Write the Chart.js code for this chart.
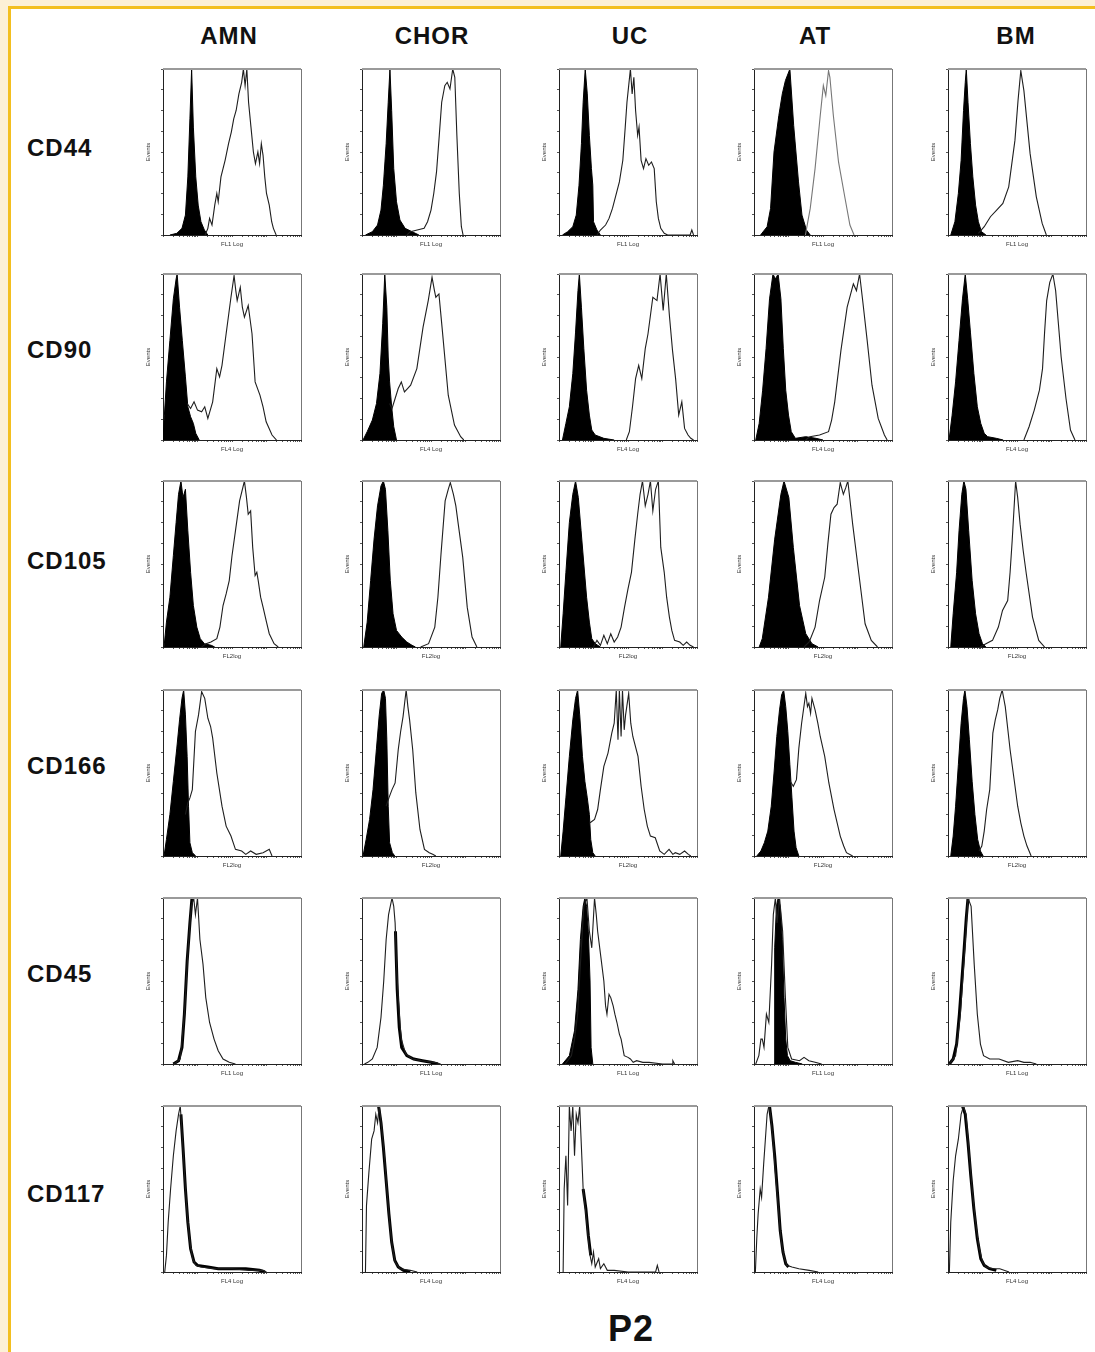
<!DOCTYPE html>
<html>
<head>
<meta charset="utf-8">
<script src="https://cdn.jsdelivr.net/npm/chart.js@4.4.1/dist/chart.umd.min.js"></script>
<style>
body { margin: 0; width: 1095px; height: 1352px; overflow: hidden; position: relative; background: #fcf0d6; font-family: "Liberation Sans", Arial, sans-serif; }
#sheet { position: absolute; left: 8px; top: 6px; width: 1200px; height: 1400px; background: #fff; border-left: 3px solid #f3bf1f; border-top: 3px solid #f3bf1f; }
.lbl { position: absolute; font-weight: bold; color: #111; font-size: 24px; letter-spacing: 1px; transform: translate(-50%, -50%); white-space: nowrap; }
.row { transform: translate(0, -50%); }
canvas { position: absolute; }
</style>
</head>
<body>
<div id="sheet"></div>
<script>
var columns = ['AMN', 'CHOR', 'UC', 'AT', 'BM'];
var markers = ['CD44', 'CD90', 'CD105', 'CD166', 'CD45', 'CD117'];
var axisTitles = ['FL1 Log', 'FL4 Log', 'FL2log', 'FL2log', 'FL1 Log', 'FL4 Log'];

// every histogram: [log decade, % of max events]
// order inside each list: AMN, CHOR, UC, AT, BM
var cd44Ctrl = [
    [[0.2,0],[0.4,1],[0.55,4],[0.65,12],[0.72,35],[0.78,70],[0.83,100],[0.88,65],[0.95,35],[1.02,18],[1.1,8],[1.2,3],[1.3,0]],
    [[0.1,0],[0.3,2],[0.45,6],[0.55,15],[0.62,30],[0.7,55],[0.76,80],[0.81,100],[0.86,75],[0.92,40],[1.0,20],[1.1,9],[1.25,4],[1.45,2],[1.65,0]],
    [[0.1,0],[0.25,2],[0.4,5],[0.5,12],[0.58,30],[0.65,55],[0.7,80],[0.76,100],[0.82,85],[0.88,60],[0.94,40],[0.98,30],[1.0,8],[1.1,3],[1.2,0]],
    [[0.19,0],[0.38,5],[0.48,16],[0.58,50],[0.72,72],[0.82,85],[0.91,93],[1.04,100],[1.15,66],[1.29,32],[1.39,12],[1.52,3],[1.63,0]],
    [[0.08,0],[0.2,8],[0.3,25],[0.38,45],[0.45,75],[0.5,92],[0.53,100],[0.58,80],[0.65,55],[0.72,35],[0.8,18],[0.88,8],[0.97,2],[1.1,0]]
];
var cd44Pos = [
    [[1.22,0],[1.3,4],[1.35,10],[1.42,6],[1.5,18],[1.56,25],[1.6,20],[1.68,35],[1.8,45],[1.9,55],[1.98,62],[2.05,70],[2.12,75],[2.2,85],[2.28,92],[2.33,100],[2.38,90],[2.43,100],[2.48,80],[2.55,65],[2.62,50],[2.68,43],[2.75,50],[2.8,43],[2.85,55],[2.9,48],[2.95,35],[3.0,25],[3.08,18],[3.15,8],[3.2,4],[3.28,0]],
    [[1.3,0],[1.4,2],[1.6,3],[1.8,4],[1.9,8],[2.0,15],[2.08,25],[2.16,38],[2.24,60],[2.31,80],[2.4,90],[2.47,92],[2.55,88],[2.63,100],[2.69,95],[2.75,60],[2.82,25],[2.88,5],[2.93,0]],
    [[1.1,0],[1.2,3],[1.35,6],[1.45,10],[1.55,16],[1.65,24],[1.75,32],[1.85,45],[1.92,65],[1.97,80],[2.02,90],[2.07,100],[2.12,85],[2.17,95],[2.22,75],[2.28,60],[2.32,65],[2.38,45],[2.45,40],[2.52,46],[2.6,42],[2.68,44],[2.76,40],[2.82,20],[2.88,10],[2.95,4],[3.05,1],[3.15,0],[3.8,0],[3.85,3],[3.9,0]],
    [[1.49,0],[1.63,16],[1.77,40],[1.92,72],[2.01,90],[2.08,84],[2.16,99],[2.2,95],[2.3,72],[2.45,44],[2.64,22],[2.78,6],[2.9,0]],
    [[0.88,1],[1.05,5],[1.23,11],[1.41,15],[1.59,19],[1.76,29],[1.94,57],[2.03,81],[2.11,99],[2.2,87],[2.38,49],[2.56,23],[2.73,7],[2.85,0]]
];

var cd90Ctrl = [
    [[0,0],[0.04,15],[0.1,35],[0.2,60],[0.3,85],[0.38,97],[0.41,100],[0.48,80],[0.56,60],[0.65,38],[0.72,20],[0.8,14],[0.88,10],[0.95,4],[1.05,0]],
    [[0.03,0],[0.15,5],[0.3,12],[0.42,22],[0.52,40],[0.6,70],[0.66,100],[0.72,80],[0.76,50],[0.8,35],[0.86,20],[0.92,8],[1.0,0]],
    [[0.1,0],[0.2,10],[0.3,20],[0.4,40],[0.48,65],[0.55,90],[0.59,100],[0.65,80],[0.72,55],[0.8,30],[0.88,15],[0.95,6],[1.05,3],[1.3,1],[1.6,0]],
    [[0.05,0],[0.15,10],[0.25,30],[0.35,55],[0.45,85],[0.55,100],[0.62,97],[0.7,100],[0.78,85],[0.85,55],[0.92,30],[1.0,15],[1.08,5],[1.2,1],[1.5,2],[1.8,1],[2.0,0]],
    [[0.03,0],[0.12,15],[0.22,35],[0.32,60],[0.42,85],[0.5,100],[0.57,85],[0.65,65],[0.75,40],[0.85,20],[0.95,10],[1.05,4],[1.15,2],[1.4,1],[1.6,0]]
];
var cd90Pos = [
    [[0.7,22],[0.8,19],[0.9,23],[1.0,18],[1.12,17],[1.21,20],[1.3,13],[1.44,23],[1.56,43],[1.64,38],[1.71,45],[1.83,64],[1.97,86],[2.06,99],[2.11,90],[2.15,84],[2.24,92],[2.3,80],[2.36,74],[2.47,81],[2.58,64],[2.67,35],[2.81,27],[2.9,20],[2.99,11],[3.16,3],[3.29,0]],
    [[0.8,22],[0.87,19],[0.96,25],[1.05,31],[1.14,35],[1.23,29],[1.32,31],[1.41,33],[1.59,43],[1.77,68],[1.92,84],[2.03,98],[2.1,90],[2.14,86],[2.23,88],[2.32,68],[2.5,27],[2.68,9],[2.86,2],[2.95,0]],
    [[1.95,0],[2.04,5],[2.13,20],[2.22,37],[2.31,45],[2.4,37],[2.5,55],[2.58,64],[2.72,86],[2.84,84],[2.93,100],[3.02,78],[3.11,100],[3.2,75],[3.29,54],[3.38,37],[3.47,15],[3.56,23],[3.64,7],[3.74,3],[3.82,1],[3.9,0]],
    [[1.5,0],[1.62,2],[1.9,3],[2.16,5],[2.25,12],[2.34,23],[2.52,54],[2.7,80],[2.88,94],[2.97,90],[3.06,100],[3.15,84],[3.28,60],[3.42,33],[3.6,13],[3.78,3],[3.86,0]],
    [[2.2,0],[2.35,8],[2.5,18],[2.65,30],[2.74,43],[2.8,65],[2.86,84],[2.95,95],[3.04,100],[3.12,90],[3.2,70],[3.28,50],[3.42,25],[3.55,6],[3.68,0]]
];

var cd105Ctrl = [
    [[0.03,0],[0.1,15],[0.2,30],[0.3,55],[0.38,75],[0.45,92],[0.52,100],[0.58,90],[0.65,95],[0.72,70],[0.8,45],[0.88,25],[0.98,12],[1.08,5],[1.2,2],[1.4,1],[1.5,0]],
    [[0.05,0],[0.15,15],[0.25,40],[0.35,65],[0.45,85],[0.55,97],[0.62,100],[0.68,95],[0.75,70],[0.82,40],[0.9,20],[1.0,10],[1.15,6],[1.3,3],[1.45,1],[1.55,0]],
    [[0.05,0],[0.12,20],[0.2,45],[0.3,75],[0.4,92],[0.48,100],[0.56,90],[0.64,70],[0.72,50],[0.8,30],[0.88,15],[0.95,5],[1.05,2],[1.2,0]],
    [[0.15,0],[0.24,5],[0.42,30],[0.6,65],[0.78,92],[0.87,100],[1.01,90],[1.14,60],[1.32,25],[1.5,8],[1.68,2],[1.86,0]],
    [[0.08,0],[0.15,20],[0.25,45],[0.32,70],[0.4,92],[0.46,100],[0.52,95],[0.6,70],[0.7,40],[0.8,20],[0.9,8],[1.0,2],[1.1,0]]
];
var cd105Pos = [
    [[1.12,0],[1.25,2],[1.39,3],[1.56,5],[1.65,12],[1.74,25],[1.83,32],[1.92,40],[2.0,55],[2.1,70],[2.22,88],[2.36,100],[2.42,90],[2.47,80],[2.54,82],[2.6,60],[2.67,43],[2.72,45],[2.76,40],[2.83,30],[2.9,24],[3.0,15],[3.08,8],[3.22,2],[3.34,0]],
    [[1.7,0],[1.93,2],[2.11,12],[2.2,30],[2.29,56],[2.41,88],[2.5,95],[2.56,99],[2.65,92],[2.72,85],[2.79,74],[2.92,54],[3.05,24],[3.19,6],[3.33,0]],
    [[1.0,0],[1.1,4],[1.2,1],[1.3,7],[1.4,2],[1.5,8],[1.6,3],[1.7,6],[1.8,12],[1.9,24],[2.0,35],[2.1,45],[2.2,65],[2.28,80],[2.35,92],[2.42,100],[2.5,85],[2.58,92],[2.65,100],[2.72,82],[2.8,95],[2.88,100],[2.95,60],[3.05,45],[3.12,30],[3.2,18],[3.27,10],[3.35,4],[3.5,3],[3.6,1],[3.7,3],[3.8,1],[3.9,0]],
    [[1.45,0],[1.6,3],[1.77,12],[1.9,28],[2.05,42],[2.14,62],[2.23,80],[2.32,84],[2.41,86],[2.5,99],[2.59,92],[2.66,96],[2.72,100],[2.86,74],[3.04,44],[3.22,14],[3.4,4],[3.58,0]],
    [[0.93,0],[1.1,2],[1.29,4],[1.46,12],[1.58,22],[1.73,28],[1.8,45],[1.86,64],[1.96,100],[2.02,90],[2.09,74],[2.18,58],[2.27,44],[2.45,18],[2.63,4],[2.8,0]]
];

var cd166Ctrl = [
    [[0.03,0],[0.1,10],[0.2,25],[0.3,45],[0.4,65],[0.48,82],[0.55,95],[0.6,100],[0.65,85],[0.7,60],[0.74,30],[0.78,8],[0.85,2],[0.95,0]],
    [[0.03,0],[0.12,10],[0.22,22],[0.32,40],[0.42,65],[0.5,85],[0.57,98],[0.63,100],[0.68,95],[0.72,70],[0.76,30],[0.8,8],[0.88,2],[0.95,0]],
    [[0.05,0],[0.12,15],[0.2,35],[0.3,60],[0.4,82],[0.48,95],[0.54,100],[0.6,85],[0.68,60],[0.75,45],[0.82,35],[0.88,25],[0.92,10],[0.98,2],[1.05,0]],
    [[0.08,0],[0.2,3],[0.3,8],[0.4,15],[0.5,30],[0.58,50],[0.66,72],[0.74,88],[0.8,97],[0.86,100],[0.92,90],[0.98,75],[1.04,55],[1.1,35],[1.16,15],[1.22,5],[1.3,0]],
    [[0.08,0],[0.15,12],[0.22,30],[0.3,55],[0.38,80],[0.45,95],[0.49,100],[0.55,90],[0.62,70],[0.7,45],[0.78,25],[0.86,10],[0.94,3],[1.02,0]]
];
var cd166Pos = [
    [[0.65,25],[0.72,32],[0.78,35],[0.85,40],[0.94,75],[1.03,85],[1.12,99],[1.21,95],[1.3,83],[1.38,78],[1.44,71],[1.56,50],[1.71,30],[1.83,18],[1.97,12],[2.1,4],[2.28,3],[2.4,1],[2.54,3],[2.7,1],[2.9,2],[3.08,4],[3.16,0]],
    [[0.7,30],[0.78,35],[0.87,40],[0.96,44],[1.05,64],[1.12,75],[1.19,84],[1.28,100],[1.33,90],[1.38,82],[1.47,64],[1.56,38],[1.68,16],[1.81,4],[1.95,2],[2.05,1],[2.14,0]],
    [[0.9,20],[1.03,22],[1.12,28],[1.2,40],[1.3,54],[1.42,62],[1.53,74],[1.6,80],[1.66,100],[1.71,70],[1.75,100],[1.8,72],[1.84,100],[1.89,76],[1.93,85],[2.02,98],[2.08,80],[2.14,72],[2.29,60],[2.38,42],[2.47,28],[2.56,18],[2.65,12],[2.79,11],[2.92,3],[3.05,1],[3.19,4],[3.3,1],[3.37,2],[3.5,1],[3.64,3],[3.75,1],[3.82,0]],
    [[1.05,45],[1.14,42],[1.23,46],[1.3,65],[1.38,80],[1.5,98],[1.55,90],[1.59,92],[1.64,86],[1.68,95],[1.77,88],[1.85,80],[1.92,72],[2.05,60],[2.17,44],[2.32,28],[2.5,12],[2.6,6],[2.68,2],[2.86,0]],
    [[0.9,3],[0.98,6],[1.05,15],[1.12,28],[1.21,40],[1.3,74],[1.37,82],[1.44,88],[1.5,95],[1.57,100],[1.66,90],[1.8,64],[1.93,44],[2.02,30],[2.11,20],[2.2,12],[2.29,6],[2.41,0]]
];

var cd45Ctrl = [
    [[0.3,0],[0.45,2],[0.55,10],[0.62,30],[0.7,62],[0.78,85],[0.84,100],[0.87,100]],
    [[0.97,80],[1.02,45],[1.08,22],[1.15,10],[1.3,5],[1.5,3],[1.75,2],[2.0,1],[2.2,0]],
    [[0.1,0],[0.3,5],[0.45,20],[0.55,45],[0.62,75],[0.7,95],[0.75,100],[0.8,95],[0.85,80],[0.9,50],[0.93,10],[0.98,0]],
    [[0.58,0],[0.6,70],[0.65,95],[0.7,100],[0.76,95],[0.82,75],[0.87,40],[0.92,15],[0.97,5],[1.05,2],[1.2,1],[1.4,0]],
    [[0.04,0],[0.15,3],[0.25,12],[0.33,30],[0.4,50],[0.47,70],[0.53,88],[0.58,100]]
];
var cd45Pos = [
    [[0.32,0],[0.5,3],[0.62,30],[0.73,70],[0.82,95],[0.89,100],[0.94,90],[1.0,100],[1.07,75],[1.16,60],[1.24,40],[1.35,25],[1.48,15],[1.6,8],[1.74,3],[1.92,1],[2.1,0]],
    [[0.07,0],[0.17,1],[0.3,3],[0.44,10],[0.55,28],[0.63,50],[0.7,75],[0.77,90],[0.87,100],[0.92,95],[0.96,85],[1.0,60],[1.05,40],[1.1,25],[1.14,15],[1.27,6],[1.46,3],[1.73,2],[2.1,1],[2.28,0]],
    [[0.18,0],[0.36,5],[0.45,15],[0.54,30],[0.62,60],[0.72,95],[0.81,100],[0.88,80],[0.95,70],[1.03,100],[1.08,90],[1.12,80],[1.21,65],[1.3,50],[1.35,35],[1.39,30],[1.45,42],[1.5,40],[1.57,35],[1.62,30],[1.68,25],[1.75,18],[1.8,15],[1.89,5],[2.0,4],[2.07,3],[2.15,1],[2.25,2],[2.43,1],[2.61,1],[3.0,0],[3.28,0],[3.3,2],[3.35,0]],
    [[0.05,0],[0.14,5],[0.2,15],[0.24,15],[0.29,10],[0.36,30],[0.43,25],[0.51,60],[0.56,90],[0.62,100],[0.67,85],[0.74,100],[0.83,80],[0.91,40],[0.98,10],[1.09,3],[1.32,2],[1.45,4],[1.59,2],[1.77,1],[1.96,0]],
    [[0.04,0],[0.22,5],[0.36,30],[0.49,70],[0.58,100],[0.67,95],[0.76,60],[0.85,30],[0.94,12],[1.03,5],[1.21,3],[1.48,3],[1.75,1],[2.02,2],[2.2,1],[2.38,1],[2.56,0]]
];

var cd117Ctrl = [
    [[0.52,95],[0.58,75],[0.65,50],[0.72,30],[0.8,14],[0.9,6],[1.0,4],[1.3,3],[1.6,2],[2.0,2],[2.4,2],[2.8,1],[2.95,0]],
    [[0.48,100],[0.55,90],[0.62,75],[0.7,55],[0.78,35],[0.86,18],[0.95,7],[1.05,3],[1.2,1],[1.4,0]],
    [[0.7,50],[0.78,38],[0.85,22],[0.92,10]],
    [[0.45,100],[0.52,88],[0.6,70],[0.68,48],[0.76,25],[0.84,12],[0.92,5],[1.0,3]],
    [[0.42,100],[0.5,95],[0.58,78],[0.66,58],[0.75,38],[0.85,20],[0.95,8],[1.05,4],[1.2,2],[1.4,1]]
];
var cd117Pos = [
    [[0.05,0],[0.1,10],[0.15,30],[0.22,50],[0.3,70],[0.38,85],[0.45,95],[0.5,100],[0.55,85],[0.62,60],[0.7,35],[0.78,18],[0.86,8],[0.95,4],[1.1,3],[1.5,2],[2.0,2],[2.5,1],[2.9,1],[3.0,0]],
    [[0.1,0],[0.13,40],[0.2,60],[0.28,80],[0.35,85],[0.4,95],[0.45,90],[0.5,100],[0.58,85],[0.65,70],[0.72,50],[0.8,30],[0.88,15],[0.96,6],[1.1,2],[1.4,1],[1.6,0]],
    [[0.12,0],[0.15,50],[0.2,70],[0.25,40],[0.3,100],[0.35,85],[0.4,100],[0.45,70],[0.5,95],[0.55,90],[0.6,100],[0.65,75],[0.7,50],[0.78,35],[0.85,20],[0.9,10],[0.95,5],[1.0,12],[1.05,3],[1.15,8],[1.2,2],[1.3,5],[1.4,1],[1.6,1],[2.0,0],[2.8,0],[2.85,4],[2.9,0]],
    [[0.04,0],[0.08,20],[0.12,35],[0.18,50],[0.22,45],[0.28,65],[0.33,80],[0.38,95],[0.43,100],[0.48,95],[0.55,80],[0.62,60],[0.7,40],[0.78,20],[0.86,10],[0.95,4],[1.1,3],[1.3,2],[1.6,1],[1.86,0]],
    [[0.04,0],[0.08,30],[0.15,55],[0.22,70],[0.3,80],[0.38,95],[0.45,100],[0.52,95],[0.6,75],[0.7,50],[0.8,30],[0.9,15],[1.0,6],[1.1,3],[1.3,2],[1.5,2],[1.77,0]]
];

var ctrlSets = [cd44Ctrl, cd90Ctrl, cd105Ctrl, cd166Ctrl, cd45Ctrl, cd117Ctrl];
var posSets = [cd44Pos, cd90Pos, cd105Pos, cd166Pos, cd45Pos, cd117Pos];

// layout of the grid (frame boxes in page pixels)
var colLeft = [163, 362, 559, 754, 948];
var colCenter = [229, 432, 630, 815, 1016];
var rowTop = [69, 274, 481, 690, 898, 1106];
var frameW = 138, frameH = 166;
var padL = 18, padT = 4, padR = 3, padB = 13;

// minor log tick marks, 4 decades
var logTicks = [];
for (var d = 0; d < 4; d++) {
    for (var k = 1; k < 10; k++) logTicks.push(d + Math.log10(k));
}
logTicks.push(4);

var frameBox = {
    id: 'frameBox',
    afterDatasetsDraw: function (chart) {
        var a = chart.chartArea, ctx = chart.ctx;
        ctx.save();
        ctx.strokeStyle = '#9a9a9a';
        ctx.lineWidth = 2;
        ctx.beginPath(); ctx.moveTo(a.left, a.top); ctx.lineTo(a.right, a.top); ctx.stroke();
        ctx.strokeStyle = '#777';
        ctx.lineWidth = 1;
        ctx.beginPath(); ctx.moveTo(a.right + 0.5, a.top); ctx.lineTo(a.right + 0.5, a.bottom); ctx.stroke();
        ctx.restore();
    }
};

function toXY(list) {
    return list.map(function (p) { return {x: p[0], y: p[1]}; });
}

function addLabel(text, x, y, cls, size) {
    var el = document.createElement('div');
    el.className = 'lbl ' + (cls || '');
    el.textContent = text;
    el.style.left = x + 'px';
    el.style.top = y + 'px';
    if (size) el.style.fontSize = size + 'px';
    document.body.appendChild(el);
}

function makePanel(r, c) {
    var canvas = document.createElement('canvas');
    canvas.width = frameW + padL + padR;
    canvas.height = frameH + padT + padB;
    canvas.style.left = (colLeft[c] - padL) + 'px';
    canvas.style.top = (rowTop[r] - padT) + 'px';
    document.body.appendChild(canvas);

    // CD45 / CD117 isotype shows only as a heavy trace on the flank
    var bandRow = r >= 4;
    var filled = !bandRow || (r === 4 && (c === 2 || c === 3));

    new Chart(canvas, {
        type: 'line',
        data: {
            datasets: [
                {
                    data: toXY(posSets[r][c]),
                    borderColor: (r === 0 && c === 3) ? '#777' : '#1e1e1e',
                    borderWidth: 1.1,
                    fill: false,
                    pointRadius: 0,
                    tension: 0
                },
                {
                    data: toXY(ctrlSets[r][c]),
                    borderColor: '#000',
                    backgroundColor: '#000',
                    borderWidth: filled ? 1 : 3,
                    fill: filled ? 'origin' : false,
                    pointRadius: 0,
                    tension: 0
                }
            ]
        },
        options: {
            responsive: false,
            animation: false,
            events: [],
            layout: { padding: { top: padT, right: padR, left: 0, bottom: 0 } },
            plugins: { legend: { display: false }, tooltip: { enabled: false } },
            scales: {
                x: {
                    type: 'linear',
                    min: 0,
                    max: 4,
                    afterBuildTicks: function (s) { s.ticks = logTicks.map(function (v) { return {value: v}; }); },
                    afterFit: function (s) { s.height = padB; },
                    grid: { drawOnChartArea: false, drawTicks: true, tickLength: 2, color: '#555' },
                    border: { color: '#222', width: 1 },
                    ticks: { display: false },
                    title: { display: true, text: axisTitles[r], color: '#333', font: { size: 6, family: 'Liberation Sans' }, padding: 0 }
                },
                y: {
                    min: 0,
                    max: 100,
                    afterFit: function (s) { s.width = padL; },
                    grid: { drawOnChartArea: false, drawTicks: true, tickLength: 2, color: '#555' },
                    border: { color: '#222', width: 1 },
                    ticks: { stepSize: 12.5, padding: 1, color: '#666', font: { size: 4 }, callback: function () { return ''; } },
                    title: { display: true, text: 'Events', color: '#333', font: { size: 6, family: 'Liberation Sans' }, padding: 0 }
                }
            }
        },
        plugins: [frameBox]
    });
}

for (var c = 0; c < columns.length; c++) addLabel(columns[c], colCenter[c], 36);
var rowCenters = [148, 350, 561, 766, 974, 1194];
for (var r = 0; r < markers.length; r++) addLabel(markers[r], 27, rowCenters[r], 'row');
addLabel('P2', 631, 1329, '', 36);

for (var r2 = 0; r2 < markers.length; r2++) {
    for (var c2 = 0; c2 < columns.length; c2++) makePanel(r2, c2);
}
</script>
</body>
</html>
